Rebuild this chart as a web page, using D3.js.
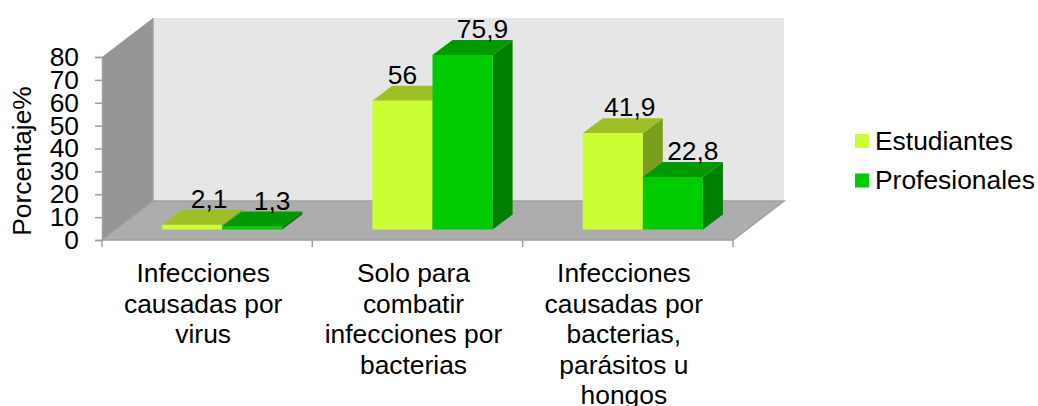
<!DOCTYPE html>
<html>
<head>
<meta charset="utf-8">
<script src="https://cdn.jsdelivr.net/npm/d3@7"></script>
<style>
	html, body { margin: 0; padding: 0; background: #fff; }
	svg { display: block; }
	text { font-family: "Liberation Sans", Arial, sans-serif; fill: #000; }
</style>
</head>
<body>
<svg id="chart" width="1038" height="406"></svg>
<script>
	// data
	var categories = ["Infecciones causadas por virus", "Solo para combatir infecciones por bacterias", "Infecciones causadas por bacterias, parásitos u hongos"];
	var categoryLines = [
		["Infecciones", "causadas por", "virus"],
		["Solo para", "combatir", "infecciones por", "bacterias"],
		["Infecciones", "causadas por", "bacterias,", "parásitos u", "hongos"]
	];
	var seriesNames = ["Estudiantes", "Profesionales"];
	var estudiantes = [2.1, 56, 41.9];
	var profesionales = [1.3, 75.9, 22.8];
	var yTicks = [0, 10, 20, 30, 40, 50, 60, 70, 80];

	var colFront = ["#ccff33", "#00cc00"];
	var colTop = ["#9fbf26", "#009900"];
	var colSide = ["#7a9f1f", "#008000"];

	var svg = d3.select("#chart");

	// front plane of the box
	var plotLeft = 102, plotRight = 733, plotBottom = 240, plotTop = 57;
	// depth of the box and of one bar
	var wallDx = 51, wallDy = 39, barDx = 20, barDy = 15;
	var barBase = 229.5, barShift = 15;
	var fs = 26.4;

	var y = d3.scaleLinear().domain([0, 80]).range([plotBottom, plotTop]);
	// bars stand further in the box, so their plane has its own vertical scale
	var yBar = d3.scaleLinear().domain([0, 80]).range([barBase, barBase - 184]);
	var x = d3.scaleBand().domain(categories).range([plotLeft, plotRight]);
	var xBar = d3.scaleBand().domain(seriesNames).range([barShift, x.bandwidth() + barShift]).paddingInner(0).paddingOuter(0.75);

	function poly(pts, fill) {
		return svg.append("polygon")
			.attr("points", pts.map(function (p) { return p.join(","); }).join(" "))
			.attr("fill", fill);
	}

	// walls and floor
	poly([[plotLeft + wallDx, plotBottom - wallDy], [plotRight + wallDx, plotBottom - wallDy], [plotRight + wallDx, plotTop - wallDy], [plotLeft + wallDx, plotTop - wallDy]], "#e6e6e6");
	poly([[plotLeft, plotBottom], [plotLeft + wallDx, plotBottom - wallDy], [plotLeft + wallDx, plotTop - wallDy], [plotLeft, plotTop]], "#969696");
	poly([[plotLeft, plotBottom], [plotRight, plotBottom], [plotRight + wallDx, plotBottom - wallDy], [plotLeft + wallDx, plotBottom - wallDy]], "#adadad");
	svg.append("path")
		.attr("d", "M" + (plotLeft + wallDx) + "," + (plotTop - wallDy) + "V" + (plotBottom - wallDy) + "H" + (plotRight + wallDx) + "L" + plotRight + "," + plotBottom + "H" + plotLeft + "L" + (plotLeft + wallDx) + "," + (plotBottom - wallDy))
		.attr("fill", "none").attr("stroke", "#a0a0a0").attr("stroke-width", 1.5);

	// y axis
	var yAxis = d3.axisLeft(y).tickValues(yTicks).tickSize(7).tickPadding(16);
	var gy = svg.append("g").attr("transform", "translate(" + plotLeft + ",0)").call(yAxis);
	gy.attr("font-family", null).attr("font-size", null);
	gy.select(".domain").attr("stroke", "#a0a0a0").attr("stroke-width", 1.5);
	gy.selectAll(".tick line").attr("stroke", "#a0a0a0").attr("stroke-width", 1.5);
	gy.selectAll("text").attr("font-size", fs).attr("fill", "#000");

	svg.append("text")
		.attr("transform", "translate(31,161) rotate(-90)")
		.attr("text-anchor", "middle")
		.attr("font-size", fs)
		.text("Porcentaje%");

	// category separators
	var edges = categories.map(function (c) { return x(c); }).concat([plotRight]);
	svg.selectAll("line.sep").data(edges).enter().append("line")
		.attr("class", "sep")
		.attr("x1", function (d) { return d; }).attr("x2", function (d) { return d; })
		.attr("y1", plotBottom).attr("y2", plotBottom + 7)
		.attr("stroke", "#a0a0a0").attr("stroke-width", 1.5);

	// category labels
	categoryLines.forEach(function (lines, i) {
		var t = svg.append("text")
			.attr("text-anchor", "middle")
			.attr("font-size", fs);
		lines.forEach(function (l, j) {
			t.append("tspan")
				.attr("x", x(categories[i]) + x.bandwidth() / 2 - 4)
				.attr("y", 282 + j * 30.5)
				.text(l);
		});
	});

	// bars, back to front per group
	var seriesValues = [estudiantes, profesionales];
	categories.forEach(function (c, i) {
		seriesNames.forEach(function (s, k) {
			var v = seriesValues[k][i];
			var x0 = x(c) + xBar(s), x1 = x0 + xBar.bandwidth();
			var yb = barBase, yt = yBar(v);
			poly([[x1, yb], [x1 + barDx, yb - barDy], [x1 + barDx, yt - barDy], [x1, yt]], colSide[k]);
			poly([[x0, yt], [x1, yt], [x1 + barDx, yt - barDy], [x0 + barDx, yt - barDy]], colTop[k]);
			poly([[x0, yb], [x1, yb], [x1, yt], [x0, yt]], colFront[k]);
		});
	});

	// value labels sit above the top face, pulled back when the next bar is taller
	categories.forEach(function (c, i) {
		seriesNames.forEach(function (s, k) {
			var v = seriesValues[k][i];
			var blocked = k === 0 && seriesValues[1][i] > v;
			svg.append("text")
				.attr("x", x(c) + xBar(s) + xBar.bandwidth() / 2 + (blocked ? 0 : (k === 0 ? 17 : 20)))
				.attr("y", yBar(v) - barDy - 2)
				.attr("text-anchor", "middle")
				.attr("font-size", fs)
				.text(String(v).replace(".", ","));
		});
	});

	// legend
	seriesNames.forEach(function (s, k) {
		svg.append("rect")
			.attr("x", 855).attr("y", 134 + k * 39.5)
			.attr("width", 14).attr("height", 14)
			.attr("fill", colFront[k]);
		svg.append("text")
			.attr("x", 875).attr("y", 150 + k * 39)
			.attr("font-size", fs)
			.text(s);
	});
</script>
</body>
</html>
